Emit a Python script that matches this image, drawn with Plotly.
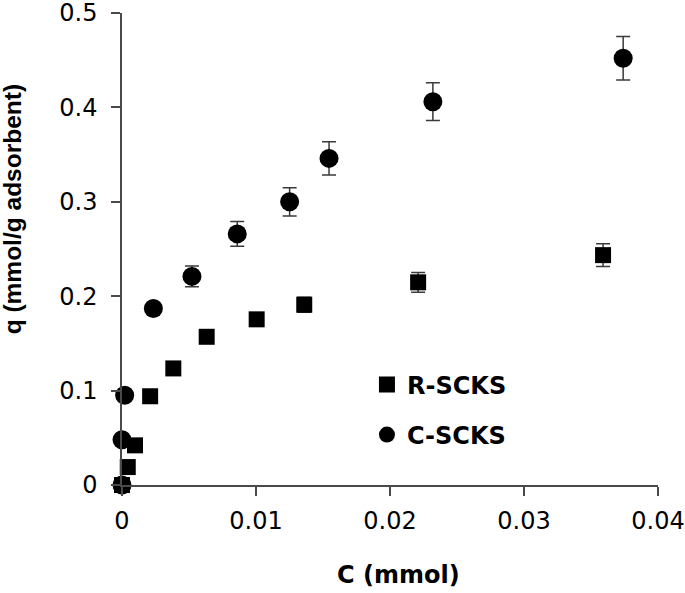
import plotly.graph_objects as go

# C-SCKS (circles)
c_x = [0.0, 0.0000, 0.0002, 0.00234, 0.00522, 0.0086, 0.01251, 0.01545, 0.0232, 0.0374]
c_y = [0.0, 0.048, 0.095, 0.187, 0.221, 0.266, 0.300, 0.346, 0.406, 0.452]
c_err = [0.0, 0.0, 0.003, 0.005, 0.011, 0.013, 0.015, 0.0175, 0.020, 0.023]

# R-SCKS (squares)
r_x = [0.0, 0.00043, 0.00097, 0.0021, 0.00383, 0.00632, 0.01005, 0.0136, 0.0221, 0.0359]
r_y = [0.0, 0.019, 0.042, 0.094, 0.1235, 0.157, 0.1755, 0.191, 0.2147, 0.2435]
r_err = [0.0, 0.0, 0.002, 0.003, 0.004, 0.005, 0.006, 0.008, 0.0105, 0.012]

x_ticks = [0, 0.01, 0.02, 0.03, 0.04]
x_tick_text = ["0", "0.01", "0.02", "0.03", "0.04"]
y_ticks = [0, 0.1, 0.2, 0.3, 0.4, 0.5]
y_tick_text = ["0", "0.1", "0.2", "0.3", "0.4", "0.5"]

HFONT = "DejaVu Sans"
err_color = "#3a3a3a"
axis_color = "#4a4a4a"

fig = go.Figure()
fig.add_trace(go.Scatter(
    x=c_x, y=c_y, mode="markers", name="C-SCKS", legendgroup="c", legendrank=2,
    marker=dict(symbol="circle", size=19, color="black"),
    error_y=dict(type="data", array=c_err, visible=True, color=err_color, thickness=1.5, width=7),
    cliponaxis=False,
))
fig.add_trace(go.Scatter(
    x=r_x, y=r_y, mode="markers", name="R-SCKS", legendgroup="r", legendrank=1,
    marker=dict(symbol="square", size=16, color="black"),
    error_y=dict(type="data", array=r_err, visible=True, color=err_color, thickness=1.5, width=7),
    cliponaxis=False,
))

fig.update_layout(
    width=685, height=593,
    margin=dict(l=122, r=27, t=13, b=108, autoexpand=False),
    plot_bgcolor="white", paper_bgcolor="white",
    font=dict(family=HFONT, size=24, color="black"),
    showlegend=True,
    legend=dict(
        x=0.457, y=0.26, xanchor="left", yanchor="top",
        traceorder="grouped", tracegroupgap=16,
        font=dict(family=HFONT, size=24, color="black", weight="bold"),
        bgcolor="rgba(0,0,0,0)",
    ),
    xaxis=dict(
        range=[0, 0.04], tickvals=x_ticks, ticktext=x_tick_text,
        showgrid=False, zeroline=False, showline=True, linecolor=axis_color, linewidth=1.5,
        ticks="outside", ticklen=9, tickwidth=1.5, tickcolor=axis_color,
        tickfont=dict(family=HFONT, size=24, color="black"),
        ticklabelstandoff=4, ticklabeloverflow="allow", automargin=False,
    ),
    yaxis=dict(
        range=[0, 0.5], tickvals=y_ticks, ticktext=y_tick_text,
        showgrid=False, zeroline=False, showline=True, linecolor=axis_color, linewidth=1.5,
        ticks="outside", ticklen=9, tickwidth=1.5, tickcolor=axis_color,
        tickfont=dict(family=HFONT, size=24, color="black"),
        ticklabelstandoff=9, ticklabeloverflow="allow", automargin=False,
    ),
    annotations=[
        dict(text="<b>C (mmol)</b>", xref="paper", yref="paper", x=0.5, y=0,
             xanchor="center", yanchor="middle", xshift=8.5, yshift=-90,
             showarrow=False, font=dict(family=HFONT, size=24, color="black")),
        dict(text="<b>q (mmol/g adsorbent)</b>", xref="paper", yref="paper", x=0, y=0.584,
             xanchor="center", yanchor="middle", xshift=-110, textangle=-90,
             showarrow=False, font=dict(family="Liberation Sans", size=24.5, color="black")),
    ],
)

fig.write_html("out.html", config={"displayModeBar": False},
               post_script="document.body.style.margin='0';")
